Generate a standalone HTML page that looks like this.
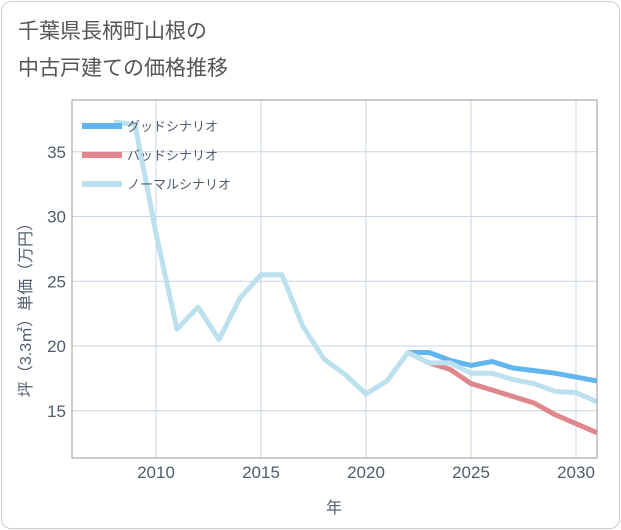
<!DOCTYPE html>
<html><head><meta charset="utf-8"><style>
body{margin:0;background:#fff;font-family:"Liberation Sans","Noto Sans CJK JP",sans-serif}
#card{position:absolute;left:1px;top:1px;width:617px;height:526px;border:1px solid #ccc;border-radius:10px;background:#fff}
.t{font-size:21px;fill:#555}
</style></head><body>
<div id="card"></div>
<svg id="c" width="621" height="530" style="position:absolute;left:0;top:0">
<text class="t" x="18" y="38">千葉県長柄町山根の</text>
<text class="t" x="18" y="75">中古戸建ての価格推移</text>
<g id="grid"></g><g id="lines"></g><g id="axes"></g>
<text x="0" y="0" transform="translate(31,306) rotate(-90)" text-anchor="middle" font-size="16" fill="#4f5d6e">坪（3.3㎡）単価（万円）</text>
<text x="334" y="513" text-anchor="middle" font-size="16" fill="#4f5d6e">年</text>
</svg>
<script>
const years=[2008,2009,2010,2011,2012,2013,2014,2015,2016,2017,2018,2019,2020,2021,2022,2023,2024,2025,2026,2027,2028,2029,2030,2031];
const normal=[37.3,37.1,28.7,21.3,23.0,20.5,23.7,25.5,25.5,21.5,19.0,17.8,16.3,17.3,19.5,18.7,18.7,17.9,17.9,17.4,17.1,16.5,16.4,15.7];
const goodYears=[2022,2023,2024,2025,2026,2027,2028,2029,2030,2031];
const good=[19.5,19.5,18.9,18.5,18.8,18.3,18.1,17.9,17.6,17.3];
const bad=[19.5,18.7,18.2,17.1,16.6,16.1,15.6,14.7,14.0,13.3];
const xTicks=[2010,2015,2020,2025,2030];
const yTicks=[15,20,25,30,35];
const L=72,R=597,T=100,B=458;
const X=y=>156+(y-2010)*21, Y=v=>346-(v-20)*12.95;
const ns="http://www.w3.org/2000/svg";
function mk(tag,at,par){const e=document.createElementNS(ns,tag);for(const k in at)e.setAttribute(k,at[k]);document.getElementById(par).appendChild(e);return e;}
xTicks.forEach(t=>{const l=mk('line',{x1:X(t),x2:X(t),y1:T,y2:B,stroke:'#c9d6e3','stroke-width':1},'grid');


const tx=mk('text',{x:X(t),y:478,'text-anchor':'middle','font-size':17,fill:'#4f5d6e'},'axes');tx.textContent=t;

});
yTicks.forEach(t=>{const l=mk('line',{x1:L,x2:R,y1:Y(t),y2:Y(t),stroke:'#c9d6e3','stroke-width':1},'grid');


const tx=mk('text',{x:66,y:Y(t)+6,'text-anchor':'end','font-size':17,fill:'#4f5d6e'},'axes');tx.textContent=t;

});
const fr=mk('path',{d:`M${L},${T}H${R}V${B}H${L}Z`,fill:'none',stroke:'#999','stroke-width':1},'axes');


function line(xs,vs,col,name){const p=mk('polyline',{points:xs.map((y,i)=>X(y)+','+Y(vs[i])).join(' '),fill:'none',stroke:col,'stroke-width':5,'stroke-linejoin':'round'},'lines');

}
line(goodYears,bad,'#e0868d','bad-scenario-line');
line(goodYears,good,'#62b6f0','good-scenario-line');
line(years,normal,'#bde0ef','normal-scenario-line');
[['グッドシナリオ','#62b6f0'],['バッドシナリオ','#e0868d'],['ノーマルシナリオ','#bde0ef']].forEach((d,i)=>{
const y=126+i*29;
const r=mk('rect',{x:82,y:y-3,width:40,height:6,fill:d[1]},'axes');


const t=mk('text',{x:127,y:y+5,'font-size':13,fill:'#4f5d6e'},'axes');t.textContent=d[0];

});
</script>
</body></html>
